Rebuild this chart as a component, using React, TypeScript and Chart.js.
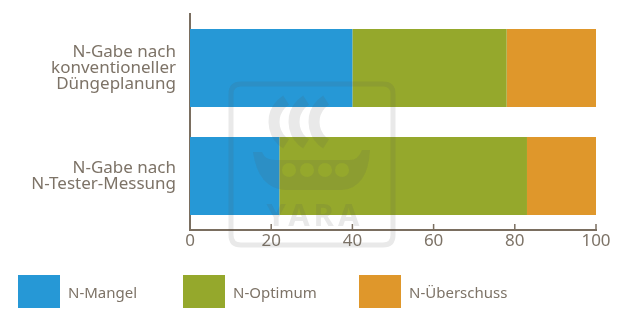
import React, { useEffect, useRef } from "react";
import { Chart, registerables } from "chart.js";

Chart.register(...registerables);

const categories: string[][] = [
  ["N-Gabe nach", "konventioneller", "Düngeplanung"],
  ["N-Gabe nach", "N-Tester-Messung"],
];
const mangel = [40, 22];
const optimum = [38, 61];
const ueberschuss = [22, 17];
const xTicks = [0, 20, 40, 60, 80, 100];
const seriesNames = ["N-Mangel", "N-Optimum", "N-Überschuss"];
const seriesColors = ["#2698d6", "#95a82c", "#df972b"];

const FONT = "'Noto Sans', sans-serif";
const TEXT = "#7d7367";
const AXIS = "#7a6e60";

const innerTicks = {
  id: "innerTicks",
  afterDraw(chart: any) {
    const { ctx, chartArea, scales } = chart;
    const x = scales.x;
    ctx.save();
    ctx.strokeStyle = AXIS;
    ctx.lineWidth = 1.5;
    xTicks.forEach((v) => {
      if (v === 0) return;
      const px = x.getPixelForValue(v);
      ctx.beginPath();
      ctx.moveTo(px, chartArea.bottom);
      ctx.lineTo(px, chartArea.bottom - 6);
      ctx.stroke();
    });
    ctx.restore();
  },
};

const watermark = {
  id: "watermark",
  afterDatasetsDraw(chart: any) {
    const { ctx } = chart;
    ctx.save();
    ctx.globalAlpha = 0.13;
    ctx.strokeStyle = "#555";
    ctx.fillStyle = "#555";
    ctx.lineWidth = 5;
    const x0 = 231, y0 = 84, w = 162, h = 161, r = 10;
    ctx.beginPath();
    ctx.moveTo(x0 + r, y0);
    ctx.lineTo(x0 + w - r, y0);
    ctx.quadraticCurveTo(x0 + w, y0, x0 + w, y0 + r);
    ctx.lineTo(x0 + w, y0 + h - r);
    ctx.quadraticCurveTo(x0 + w, y0 + h, x0 + w - r, y0 + h);
    ctx.lineTo(x0 + r, y0 + h);
    ctx.quadraticCurveTo(x0, y0 + h, x0, y0 + h - r);
    ctx.lineTo(x0, y0 + r);
    ctx.quadraticCurveTo(x0, y0, x0 + r, y0);
    ctx.stroke();
    // sails
    ctx.lineWidth = 11;
    [0, 1, 2].forEach((i) => {
      ctx.beginPath();
      ctx.arc(300 + i * 20, 122, 26, Math.PI * 0.68, Math.PI * 1.32);
      ctx.stroke();
    });
    // hull with shields
    ctx.beginPath();
    ctx.moveTo(253, 152);
    ctx.quadraticCurveTo(258, 188, 285, 190);
    ctx.lineTo(342, 190);
    ctx.quadraticCurveTo(368, 188, 370, 150);
    ctx.lineTo(362, 150);
    ctx.quadraticCurveTo(358, 160, 350, 160);
    ctx.lineTo(275, 160);
    ctx.quadraticCurveTo(265, 160, 262, 152);
    ctx.closePath();
    [289, 307, 325, 342].forEach((cx) => {
      ctx.moveTo(cx + 7, 170);
      ctx.arc(cx, 170, 7, 0, Math.PI * 2);
    });
    ctx.fill("evenodd");
    ctx.font = `bold 31px ${FONT}`;
    (ctx as any).letterSpacing = "4px";
    ctx.textAlign = "center";
    ctx.textBaseline = "alphabetic";
    ctx.fillText("YARA", 315, 226);
    ctx.restore();
  },
};

export default function App() {
  const ref = useRef<HTMLCanvasElement>(null);
  useEffect(() => {
    if (!ref.current) return;
    const chart = new Chart(ref.current, {
      type: "bar",
      data: {
        labels: categories,
        datasets: [mangel, optimum, ueberschuss].map((d, i) => ({
          label: seriesNames[i],
          data: d,
          backgroundColor: seriesColors[i],
          borderWidth: 0,
          barPercentage: 1,
          categoryPercentage: 0.722,
        })),
      },
      options: {
        indexAxis: "y",
        animation: false,
        responsive: false,
        maintainAspectRatio: false,
        layout: { padding: { top: 14, right: 29, bottom: 0, left: 0 } },
        plugins: { legend: { display: false }, tooltip: { enabled: false } },
        scales: {
          x: {
            stacked: true,
            min: 0,
            max: 100,
            afterBuildTicks: (s: any) => {
              s.ticks = xTicks.map((v) => ({ value: v }));
            },
            afterFit: (s: any) => {
              s.height = 102;
              s.paddingLeft = 0;
              s.paddingRight = 0;
            },
            grid: { display: false, drawTicks: false },
            border: { display: true, color: AXIS, width: 2 },
            ticks: { color: TEXT, font: { family: FONT, size: 17 }, padding: 1 },
          },
          y: {
            stacked: true,
            afterFit: (s: any) => {
              s.width = 190;
              s.paddingTop = 0;
              s.paddingBottom = 0;
            },
            grid: { display: false, drawTicks: false },
            border: { display: true, color: AXIS, width: 2 },
            ticks: {
              color: TEXT,
              font: { family: FONT, size: 17, lineHeight: 0.95 },
              padding: 14,
            },
          },
        },
      },
      plugins: [innerTicks, watermark],
    });
    return () => chart.destroy();
  }, []);

  const legendPos = [18, 183, 359];
  return (
    <div style={{ position: "absolute", left: 0, top: 0, width: 625, height: 332, background: "#fff" }}>
      <canvas ref={ref} width={625} height={332} style={{ display: "block" }} />
      {seriesNames.map((n, i) => (
        <div
          key={n}
          style={{
            position: "absolute",
            left: legendPos[i],
            top: 275,
            height: 33,
            display: "flex",
            alignItems: "center",
            fontFamily: FONT,
            fontSize: 15,
            color: TEXT,
          }}
        >
          <div style={{ width: 42, height: 33, background: seriesColors[i], marginRight: 8 }} />
          <span>{n}</span>
        </div>
      ))}
    </div>
  );
}
